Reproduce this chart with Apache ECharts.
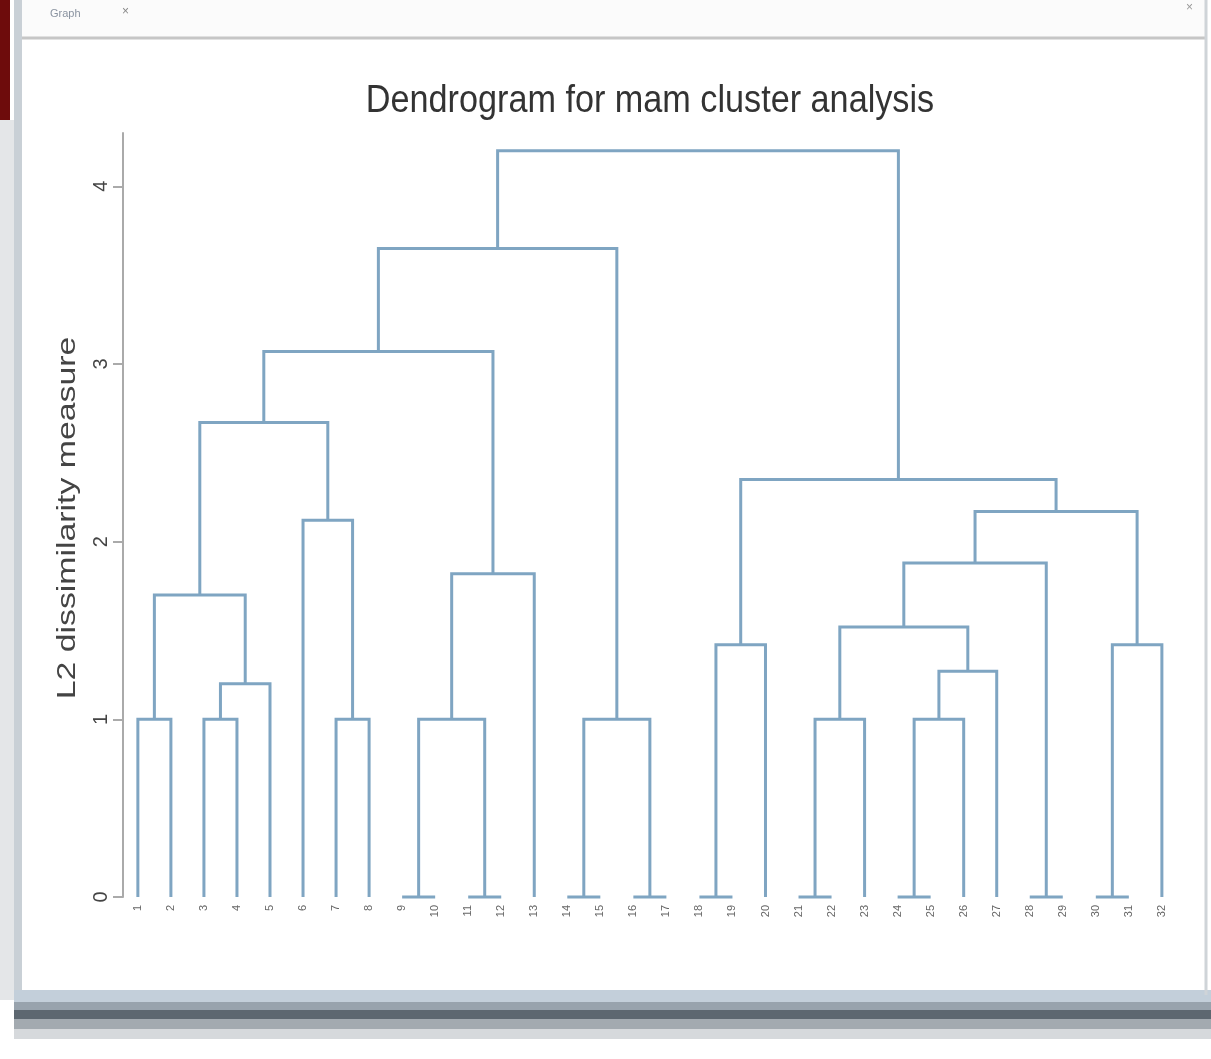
<!DOCTYPE html>
<html><head><meta charset="utf-8">
<script src="https://cdn.jsdelivr.net/npm/echarts@6/dist/echarts.min.js"></script>
<style>html,body{margin:0;padding:0;background:#fff}#c{width:1211px;height:1059px}</style>
</head><body><div id="c"></div>
<script>
// Leaf labels (observation numbers, left to right)
const leafLabels = ['1','2','3','4','5','6','7','8','9','10','11','12','13','14','15','16',
  '17','18','19','20','21','22','23','24','25','26','27','28','29','30','31','32'];
// Merges: [child A, child B, dissimilarity]; leaves are 0..31, merge k creates node 32+k
const merges = [
  [8,9,0],[10,11,0],[13,14,0],[15,16,0],[17,18,0],[20,21,0],[23,24,0],[27,28,0],[29,30,0],
  [0,1,1],[2,3,1],[6,7,1],[32,33,1],[34,35,1],[37,22,1],[38,25,1],
  [42,4,1.2],[47,26,1.27],[36,19,1.42],[40,31,1.42],[46,49,1.52],[41,48,1.70],
  [44,12,1.82],[52,39,1.88],[5,43,2.12],[55,51,2.17],[50,57,2.35],[53,56,2.67],
  [59,54,3.07],[60,45,3.65],[61,58,4.2]
];
const yTicks = [0,1,2,3,4];
const titleText = 'Dendrogram for mam cluster analysis';
const yTitle = 'L2 dissimilarity measure';

const nodeX = leafLabels.map((_, i) => i);
const nodeH = leafLabels.map(() => 0);
const linkData = merges.map(([a, b, h]) => {
  nodeX.push((nodeX[a] + nodeX[b]) / 2);
  nodeH.push(h);
  return [nodeX[a], nodeH[a], nodeX[b], nodeH[b], h];
});

const lineColor = '#7fa5c2';
const chart = echarts.init(document.getElementById('c'));
chart.setOption({
  animation: false,
  backgroundColor: '#ffffff',
  grid: { left: 123, right: 32.6, top: 133, bottom: 162 },
  xAxis: {
    type: 'value', min: -0.45, max: 31.5,
    axisLine: { show: false }, axisTick: { show: false }, splitLine: { show: false },
    axisLabel: {
      customValues: leafLabels.map((_, i) => i),
      formatter: v => leafLabels[Math.round(v)] || '',
      rotate: 90, fontSize: 11, color: '#666', margin: 8, fontFamily: 'Liberation Sans'
    }
  },
  yAxis: {
    type: 'value', min: 0, max: 4.3,
    axisLine: { show: true, onZero: false, lineStyle: { color: '#aaa', width: 2 } },
    axisTick: { show: true, length: 10, customValues: yTicks, lineStyle: { color: '#aaa', width: 2 } },
    axisLabel: { customValues: yTicks, rotate: 90, fontSize: 20, color: '#444', margin: 12, fontFamily: 'Liberation Sans' },
    splitLine: { show: false }
  },
  series: [{
    type: 'custom',
    clip: false,
    encode: { x: [0, 2], y: [1, 3, 4] },
    data: linkData,
    renderItem: (params, api) => {
      const p1 = api.coord([api.value(0), api.value(1)]);
      const p2 = api.coord([api.value(0), api.value(4)]);
      const p3 = api.coord([api.value(2), api.value(4)]);
      const p4 = api.coord([api.value(2), api.value(3)]);
      return { type: 'polyline', shape: { points: [p1, p2, p3, p4] },
        style: { stroke: lineColor, lineWidth: 3, fill: null } };
    }
  }],
  graphic: [
    // window chrome
    { type: 'rect', shape: { x: 0, y: 0, width: 10, height: 120 }, style: { fill: '#6e0c0c' }, z: -1 },
    { type: 'rect', shape: { x: 0, y: 120, width: 14, height: 880 }, style: { fill: '#e4e6e8' }, z: -1 },
    { type: 'rect', shape: { x: 14, y: 0, width: 8, height: 1000 }, style: { fill: '#c9d0d6' }, z: -1 },
    { type: 'rect', shape: { x: 22, y: 0, width: 1183, height: 38 }, style: { fill: '#fbfbfb' }, z: -1 },
    { type: 'line', shape: { x1: 22, y1: 38, x2: 1205, y2: 38 }, style: { stroke: '#c6c6c6', lineWidth: 3 } },
    { type: 'line', shape: { x1: 1206, y1: 0, x2: 1206, y2: 995 }, style: { stroke: '#cfd4d8', lineWidth: 3 } },
    { type: 'text', x: 50, y: 8, style: { text: 'Graph', font: '11px Liberation Sans', fill: '#8a93a0' } },
    { type: 'text', x: 122, y: 6, style: { text: '×', font: '12px Liberation Sans', fill: '#888' } },
    { type: 'text', x: 1186, y: 2, style: { text: '×', font: '12px Liberation Sans', fill: '#999' } },
    { type: 'rect', shape: { x: 14, y: 990, width: 1197, height: 12 }, style: { fill: '#c3cfda' }, z: -1 },
    { type: 'rect', shape: { x: 14, y: 1002, width: 1197, height: 8 }, style: { fill: '#98a3ad' }, z: -1 },
    { type: 'rect', shape: { x: 14, y: 1010, width: 1197, height: 9 }, style: { fill: '#5d6770' }, z: -1 },
    { type: 'rect', shape: { x: 14, y: 1019, width: 1197, height: 10 }, style: { fill: '#a3aab0' }, z: -1 },
    { type: 'rect', shape: { x: 14, y: 1029, width: 1197, height: 10 }, style: { fill: '#d6d9dc' }, z: -1 },
    // title
    { type: 'text', x: 650, y: 102, scaleX: 0.9,
      style: { text: titleText, font: '38px "Liberation Sans"',
      textAlign: 'center', textVerticalAlign: 'middle', fill: '#333' } },
    // y-axis title (stretched along its length like the reference)
    { type: 'text', x: 68, y: 518, rotation: Math.PI / 2, scaleX: 1.3,
      style: { text: yTitle, font: '26px "Liberation Sans"',
      textAlign: 'center', textVerticalAlign: 'middle', fill: '#444' } }
  ]
});
</script>
</body></html>
